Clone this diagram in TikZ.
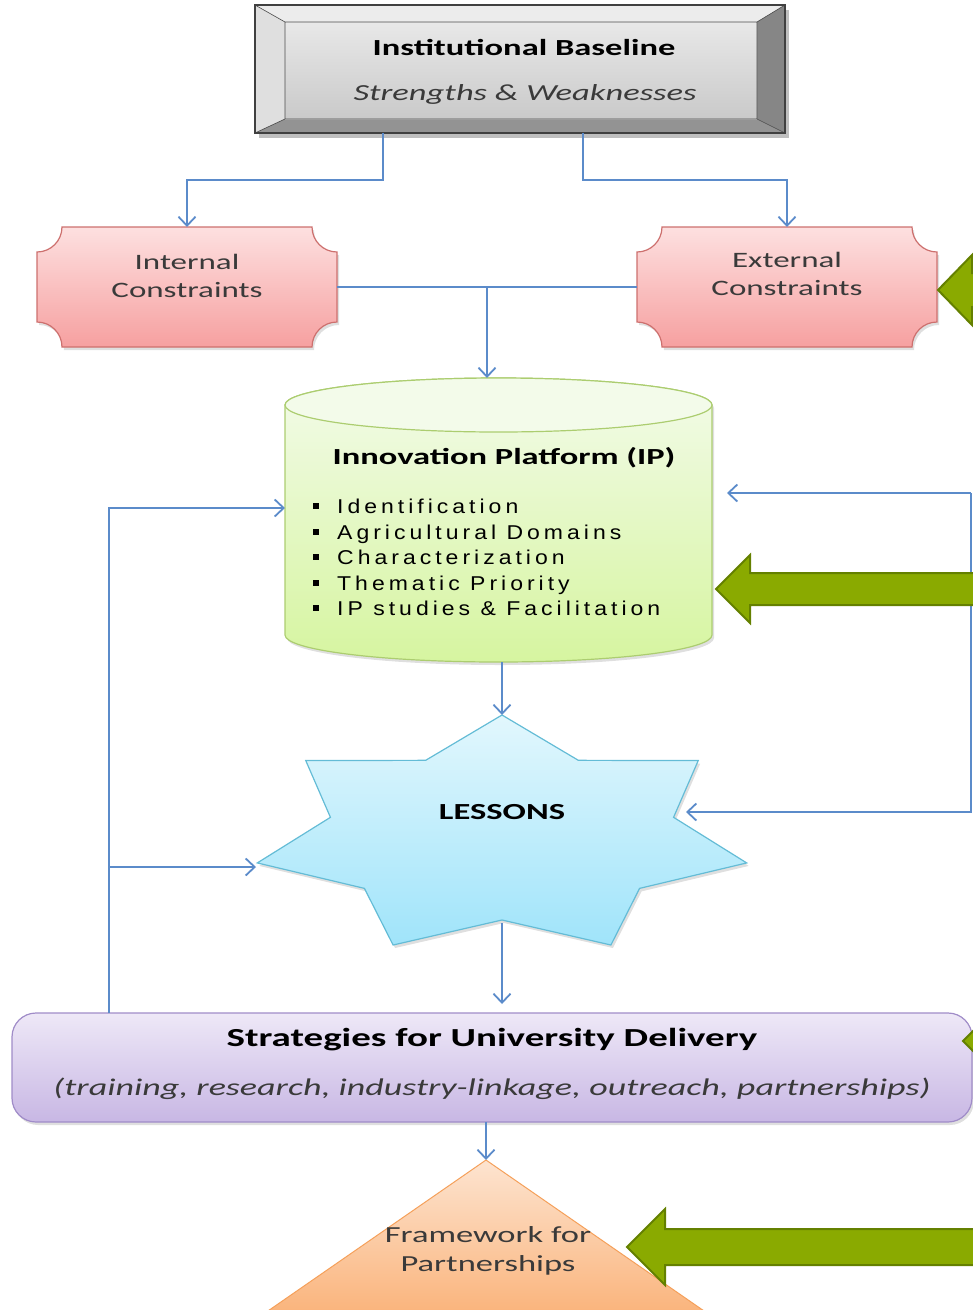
\documentclass[tikz,border=0pt]{standalone}
\usepackage{fontspec}
\setmainfont[FakeStretch=1.5]{Carlito}
\newfontfamily\listfont[FakeStretch=1.15,LetterSpace=20]{Liberation Sans}
\usetikzlibrary{arrows.meta,calc,shadows}

\definecolor{flowblue}{RGB}{91,139,202}
\definecolor{leaf}{RGB}{138,170,0}
\definecolor{leafdark}{RGB}{100,128,0}
\definecolor{inktext}{RGB}{58,58,58}
\definecolor{pinktop}{RGB}{253,224,224}
\definecolor{pinkbot}{RGB}{246,160,160}
\definecolor{pinkline}{RGB}{205,112,110}
\definecolor{greentop}{RGB}{243,251,234}
\definecolor{greenbot}{RGB}{214,245,160}
\definecolor{greenline}{RGB}{172,205,112}
\definecolor{skytop}{RGB}{226,247,253}
\definecolor{skybot}{RGB}{160,228,250}
\definecolor{skyline}{RGB}{100,188,214}
\definecolor{lilactop}{RGB}{238,232,247}
\definecolor{lilacbot}{RGB}{200,183,228}
\definecolor{lilacline}{RGB}{160,140,200}
\definecolor{peachtop}{RGB}{253,228,208}
\definecolor{peachbot}{RGB}{250,180,124}
\definecolor{peachline}{RGB}{245,160,90}

% plaque outline (concave corners) round a node
\newcommand{\drawplaque}[2]{%
  \path[#2] ([yshift=-25pt]#1.north west) arc[start angle=-90,end angle=0,radius=25pt]
    -- ([xshift=-25pt]#1.north east) arc[start angle=180,end angle=270,radius=25pt]
    -- ([yshift=25pt]#1.south east) arc[start angle=90,end angle=180,radius=25pt]
    -- ([xshift=25pt]#1.south west) arc[start angle=0,end angle=90,radius=25pt] -- cycle;}

\begin{document}
\begin{tikzpicture}[x=1pt,y=-1pt]
  \tikzset{area/.style = {inner sep=0pt,outer sep=0pt}};
  \tikzset{softshadow/.style = {drop shadow={shadow xshift=2pt,shadow yshift=-3pt,opacity=.25}}};
  \tikzset{flow/.style = {draw=flowblue,line width=1.8pt,-{Straight Barb[length=9pt,width=17pt]}}};
  \tikzset{link/.style = {draw=flowblue,line width=1.8pt}};
  \tikzset{txt/.style = {inner sep=0pt,align=center,font=\fontsize{23}{28}\selectfont}};
  \tikzset{plaquefill/.style = {top color=pinktop,bottom color=pinkbot,draw=pinkline,line width=1.2pt,softshadow}};
  \tikzset{greenarrow/.style = {fill=leaf,draw=leafdark,line width=2pt}};
  \tikzset{item/.style = {inner sep=0pt,anchor=west,text height=15pt,text depth=0pt,font=\listfont\fontsize{20}{24}\selectfont}};

  \useasboundingbox (0,0) rectangle (973,1310);
  \clip (0,0) rectangle (973,1310);

  % frames of the shapes
  \node[area,minimum width=530pt,minimum height=128pt] (base) at (520,69) {};
  \node[area,minimum width=300pt,minimum height=120pt] (intc) at (187,287) {};
  \node[area,minimum width=300pt,minimum height=120pt] (extc) at (787,287) {};
  \node[area,minimum width=427pt,minimum height=284pt] (ip) at (498.5,520) {};
  \node[area,minimum width=492pt,minimum height=230pt] (lessons) at (502,830) {};
  \node[area,minimum width=440pt,minimum height=150pt] (frame) at (486,1235) {};

  % institutional baseline (bevel)
  \fill[black,opacity=.25] (259,10) rectangle (789,138);
  \fill[gray!15] (255,5) -- (785,5) -- (757,22) -- (285,22) -- cycle;
  \fill[gray!25] (255,5) -- (285,22) -- (285,119) -- (255,133) -- cycle;
  \fill[gray!95!white] (785,5) -- (785,133) -- (757,119) -- (757,22) -- cycle;
  \fill[gray!85!white] (255,133) -- (285,119) -- (757,119) -- (785,133) -- cycle;
  \shade[top color=gray!18,bottom color=gray!42] (285,22) rectangle (757,119);
  \draw[black!70,line width=.6pt] (255,5) -- (285,22) (785,5) -- (757,22)
    (255,133) -- (285,119) (785,133) -- (757,119) (285,22) rectangle (757,119);
  \draw[black!75,line width=1.6pt] (base.north west) rectangle (base.south east);

  % constraints
  \drawplaque{intc}{plaquefill}
  \drawplaque{extc}{plaquefill}

  % innovation platform
  \shade[top color=greentop,bottom color=greenbot,draw=greenline,line width=1.2pt,softshadow]
    (285,405) -- (285,635) arc[start angle=180,end angle=360,x radius=213.5pt,y radius=27pt]
    -- (712,405) arc[start angle=0,end angle=180,x radius=213.5pt,y radius=27pt] -- cycle;
  \draw[fill=greentop,draw=greenline,line width=1.2pt] (498.5,405) ellipse[x radius=213.5pt,y radius=27pt];

  % lessons star
  \begin{scope}[shift={(502,836)}]
    \shade[top color=skytop,bottom color=skybot,draw=skyline,line width=1.2pt,softshadow]
      (90:251pt and 121pt) \foreach \k in {0,...,6} {
        -- ({90+\k*360/7+180/7}:176pt and 84pt) -- ({90+(\k+1)*360/7}:251pt and 121pt) } -- cycle;
  \end{scope}

  % strategies
  \node[area,minimum width=960pt,minimum height=109pt,rounded corners=24pt,
    top color=lilactop,bottom color=lilacbot,draw=lilacline,line width=1.2pt,softshadow] (strat) at (492,1067.5) {};

  % framework triangle
  \shade[top color=peachtop,bottom color=peachbot,draw=peachline,line width=1pt]
    (frame.north) -- (707,1313) -- (265,1313) -- cycle;

  % connectors
  \draw[flow] ([xshift=-137pt]base.south) -- ++(0,47) -| (intc.north);
  \draw[flow] ([xshift=63pt]base.south) -- ++(0,47) -| (extc.north);
  \draw[link] (intc.east) -- (extc.west);
  \coordinate (join) at ($(intc.east)!0.5!(extc.west)$);
  \draw[flow] (join) -- (join |- ip.north);
  \draw[flow] (ip.south -| lessons.north) -- (lessons.north);
  \coordinate (lessin) at (502,923);
  \draw[flow,shorten >=9pt] (lessin) -- (lessin |- strat.north);
  \draw[flow] (strat.south -| frame.north) -- (frame.north);
  % loop on the left
  \coordinate (loopa) at (109,508);
  \coordinate (loopb) at (109,867);
  \draw[flow] (strat.north -| loopa) -- (loopa) -- (loopa -| ip.west);
  \draw[flow] (loopb) -- (loopb -| lessons.west);
  % loop on the right
  \coordinate (loopc) at (971,493);
  \coordinate (loopd) at (971,812);
  \coordinate (lessr) at (686,812);
  \draw[flow,shorten >=15pt] (loopc) -- (loopc -| ip.east);
  \draw[flow] (loopc) -- (loopd) -- (lessr);

  % green block arrows
  \foreach \tx/\ty/\hl/\hh/\sh in {938/290/34/35/17, 716/589/34/34/16, 963/1041/34/34/17, 627/1247/38/38/18}
    \draw[greenarrow] (\tx,\ty) -- ++(\hl,-\hh) -- ++(0,\hh-\sh) -- (1000,\ty-\sh)
      -- (1000,\ty+\sh) -- (\tx+\hl,\ty+\sh) -- ++(0,\hh-\sh) -- cycle;

  % texts
  \node[txt,font=\fontsize{23}{28}\selectfont\bfseries] (basetitle) at (524,47) {Institutional Baseline};
  \node[txt,font=\fontsize{23}{28}\selectfont\itshape,text=inktext] (basesub) at (525,94) {Strengths \& Weaknesses};
  \node[txt,text=inktext,font=\fontsize{22}{28}\selectfont] (intctext) at (187,276) {Internal\\Constraints};
  \node[txt,text=inktext,font=\fontsize{22}{28}\selectfont] (extctext) at (787,274) {External\\Constraints};
  \node[txt,font=\fontsize{23}{28}\selectfont\bfseries] (iptitle) at (504,458) {Innovation Platform (IP)};
  \foreach \t [count=\i] in {Identification, Agricultural Domains, Characterization, Thematic Priority, IP studies \& Facilitation} {
    \node[item] (item\i) at (337,480.5+\i*25.5) {\t};
    \fill ([xshift=-24pt,yshift=-3pt]item\i.west) rectangle ++(6pt,6pt);
  }
  \node[txt,font=\fontsize{23}{28}\selectfont\bfseries] (lessonstext) at (502,812) {LESSONS};
  \node[txt,font=\fontsize{26}{30}\selectfont\bfseries] (strattitle) at (492,1040) {Strategies for University Delivery};
  \node[txt,font=\fontsize{24}{28}\selectfont\itshape,text=inktext] (stratsub) at (492,1089) {(training, research, industry-linkage, outreach, partnerships)};
  \node[txt,text=inktext,font=\fontsize{23}{29}\selectfont] (frametext) at (488,1251) {Framework for\\Partnerships};
\end{tikzpicture}
\end{document}
